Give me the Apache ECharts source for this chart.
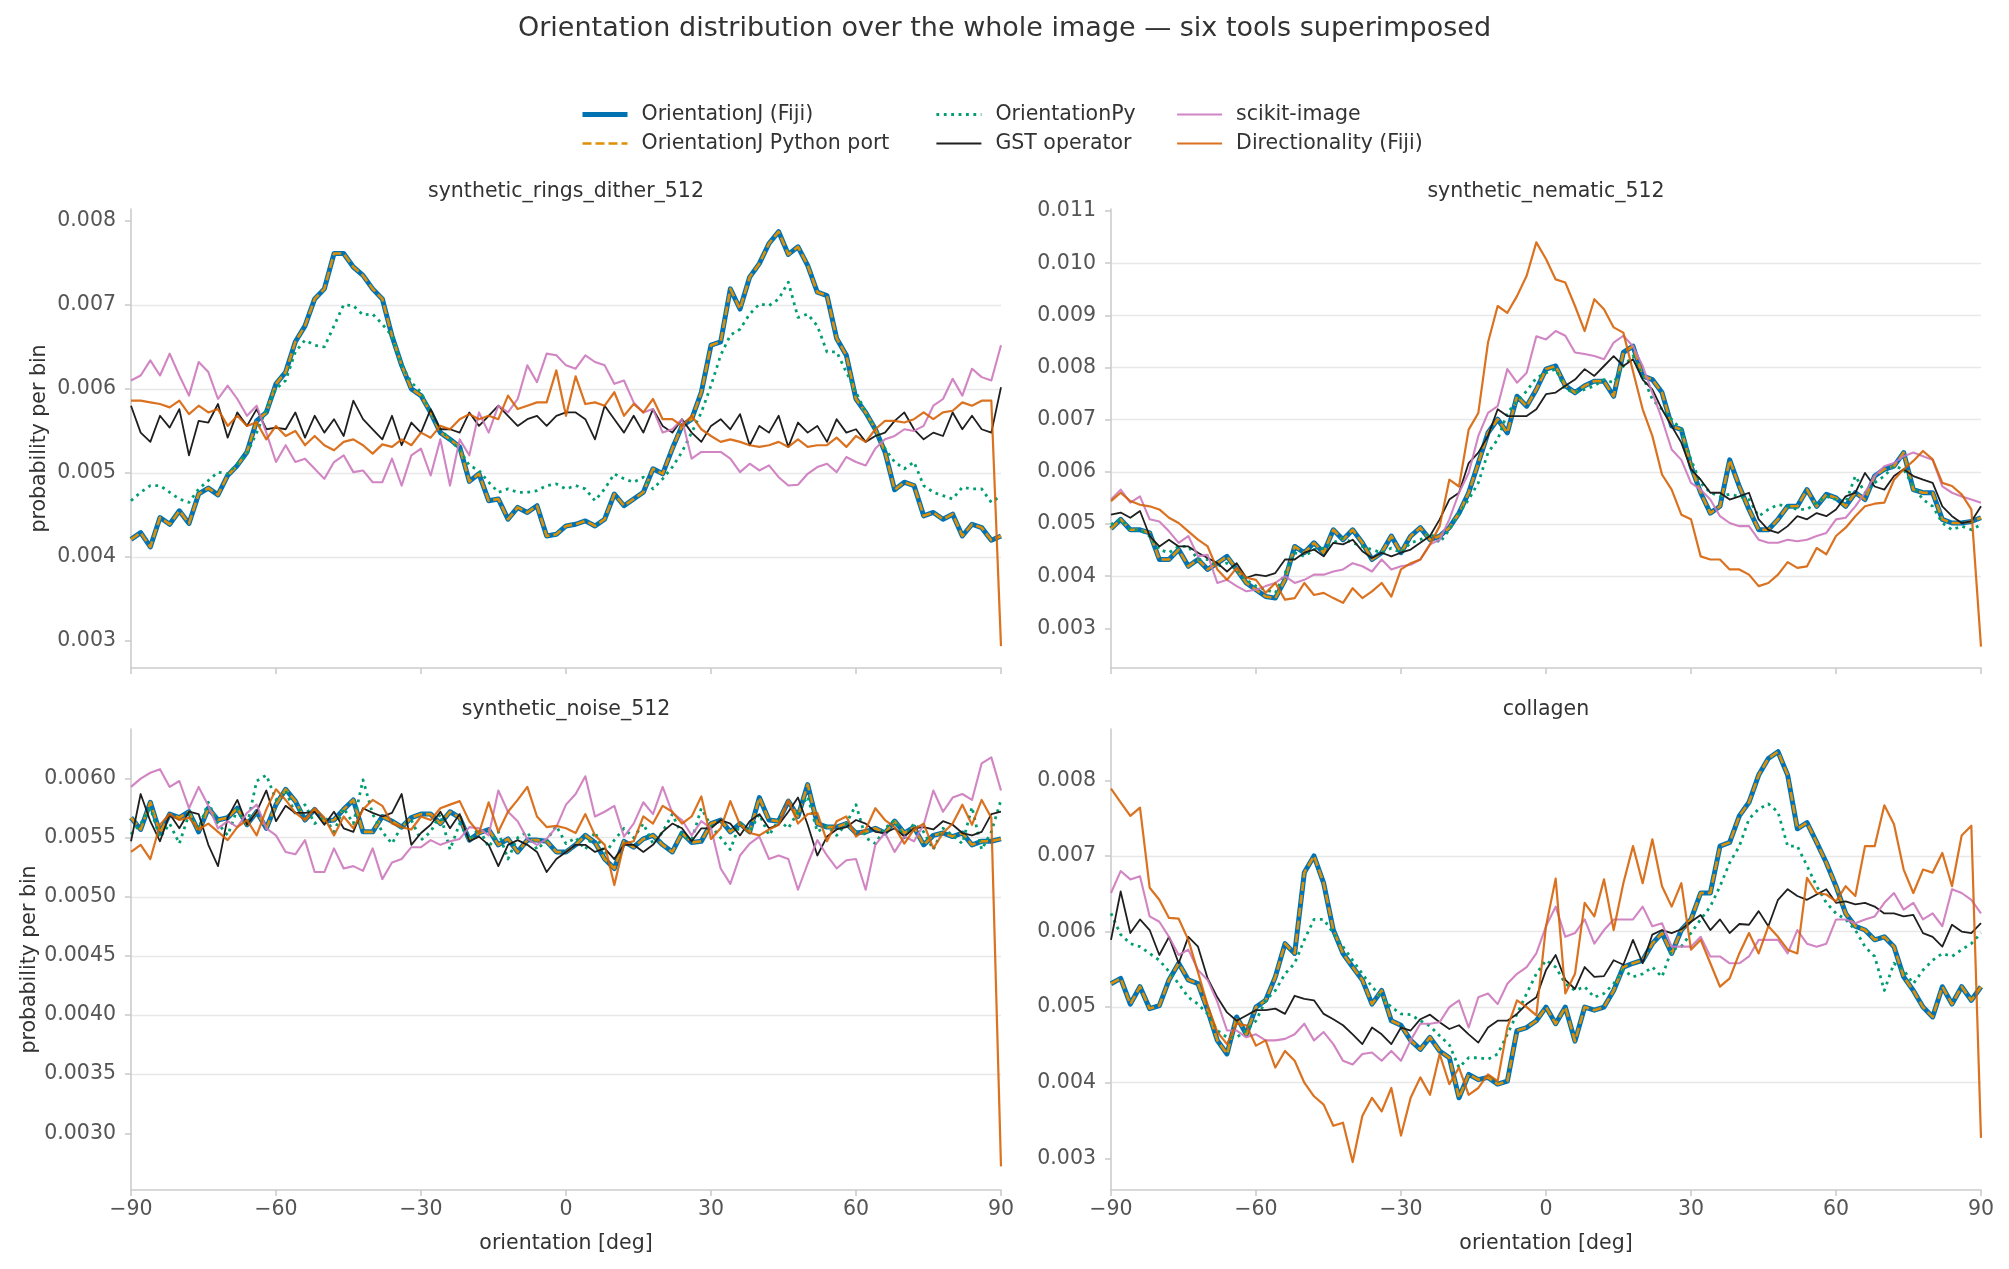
<!DOCTYPE html>
<html>
<head>
<meta charset="utf-8">
<title>Orientation distribution - six tools</title>
<script src="https://cdn.jsdelivr.net/npm/echarts@6.0.0/dist/echarts.min.js"></script>
<style>
    html, body { margin: 0; padding: 0; background: #ffffff; }
    #main { width: 2009px; height: 1269px; }
</style>
</head>
<body>
<div id="main"></div>
<script>
// bin centres, degrees
var angles = [-90,-88,-86,-84,-82,-80,-78,-76,-74,-72,-70,-68,-66,-64,-62,-60,-58,-56,-54,-52,-50,-48,-46,-44,-42,-40,-38,-36,-34,-32,-30,-28,-26,-24,-22,-20,-18,-16,-14,-12,-10,-8,-6,-4,-2,0,
    2,4,6,8,10,12,14,16,18,20,22,24,26,28,30,32,34,36,38,40,42,44,46,48,50,52,54,56,58,60,62,64,66,68,70,72,74,76,78,80,82,84,86,88,90];

// probability per bin, in units of 1e-3
// --- synthetic_rings_dither_512
var ringsOJ = [4.21,4.29,4.12,4.47,4.39,4.55,4.40,4.75,4.82,4.74,4.97,5.09,5.25,5.62,5.72,6.06,6.20,6.56,6.75,7.07,7.19,7.61,7.61,7.45,7.35,7.19,7.07,6.63,6.28,6.00,5.92,5.72,5.48,5.40,5.31,4.90,4.99,4.67,4.69,4.45,4.59,4.53,4.61,4.25,4.27,4.37,
    4.39,4.43,4.37,4.45,4.75,4.61,4.69,4.77,5.05,4.99,5.29,5.56,5.64,5.96,6.52,6.56,7.19,6.95,7.33,7.49,7.73,7.87,7.60,7.69,7.47,7.15,7.11,6.60,6.40,5.88,5.72,5.52,5.25,4.80,4.89,4.85,4.49,4.53,4.45,4.51,4.25,4.39,4.35,4.20,4.25];
var ringsOPy = [4.67,4.77,4.85,4.85,4.77,4.69,4.65,4.81,4.91,5.01,4.99,5.11,5.23,5.48,5.76,6.00,6.10,6.44,6.58,6.52,6.50,6.75,7.00,6.99,6.88,6.89,6.77,6.63,6.28,6.08,5.96,5.72,5.52,5.40,5.27,5.09,5.03,4.89,4.77,4.81,4.77,4.77,4.79,4.85,4.87,4.81,
    4.85,4.81,4.67,4.81,4.99,4.93,4.89,4.95,4.81,4.93,5.07,5.25,5.48,5.72,6.04,6.40,6.64,6.71,6.89,7.01,6.99,7.07,7.27,6.85,6.89,6.75,6.44,6.44,6.20,5.96,5.72,5.52,5.29,5.13,5.05,5.13,4.85,4.77,4.73,4.69,4.83,4.81,4.81,4.65,4.73];
var ringsGST = [5.80,5.48,5.37,5.68,5.54,5.76,5.21,5.62,5.60,5.82,5.42,5.72,5.56,5.76,5.52,5.54,5.52,5.72,5.42,5.68,5.48,5.64,5.44,5.86,5.64,5.52,5.40,5.68,5.33,5.60,5.48,5.76,5.52,5.52,5.48,5.72,5.56,5.68,5.80,5.68,5.56,5.64,5.68,5.56,5.68,5.72,
    5.72,5.64,5.40,5.80,5.64,5.48,5.68,5.48,5.76,5.56,5.48,5.64,5.48,5.37,5.56,5.64,5.52,5.70,5.33,5.56,5.48,5.68,5.31,5.60,5.48,5.56,5.37,5.64,5.48,5.52,5.37,5.44,5.48,5.62,5.72,5.52,5.40,5.48,5.44,5.72,5.52,5.68,5.52,5.48,6.02];
var ringsSki = [6.10,6.16,6.34,6.16,6.42,6.16,5.92,6.32,6.20,5.88,6.04,5.88,5.68,5.80,5.48,5.13,5.33,5.13,5.17,5.05,4.93,5.13,5.21,5.01,5.03,4.89,4.89,5.17,4.85,5.21,5.29,4.97,5.40,4.85,5.40,5.21,5.72,5.48,5.80,5.72,5.88,6.28,6.08,6.42,6.40,6.28,
    6.24,6.40,6.32,6.28,6.06,6.10,5.84,5.72,5.76,5.48,5.52,5.64,5.17,5.25,5.25,5.25,5.17,5.01,5.11,5.03,5.09,4.95,4.85,4.86,4.99,5.07,5.11,5.01,5.19,5.13,5.09,5.29,5.40,5.44,5.52,5.50,5.56,5.80,5.88,6.12,5.92,6.24,6.14,6.10,6.52];
var ringsDir = [5.86,5.86,5.84,5.82,5.78,5.86,5.70,5.80,5.72,5.76,5.56,5.68,5.56,5.60,5.40,5.56,5.44,5.50,5.33,5.44,5.33,5.27,5.37,5.40,5.33,5.23,5.34,5.31,5.40,5.33,5.48,5.42,5.56,5.52,5.64,5.70,5.64,5.68,5.64,5.92,5.76,5.80,5.84,5.84,6.22,5.68,
    6.15,5.82,5.84,5.80,5.96,5.68,5.82,5.72,5.88,5.64,5.64,5.56,5.68,5.52,5.44,5.37,5.40,5.37,5.33,5.31,5.33,5.37,5.31,5.40,5.31,5.33,5.33,5.42,5.31,5.44,5.37,5.52,5.62,5.62,5.60,5.64,5.72,5.64,5.72,5.74,5.84,5.80,5.86,5.86,2.94];

// --- synthetic_nematic_512
var nemOJ = [4.91,5.09,4.89,4.89,4.83,4.32,4.32,4.51,4.19,4.32,4.13,4.25,4.38,4.13,3.87,3.74,3.61,3.58,3.93,4.57,4.45,4.64,4.45,4.89,4.70,4.89,4.64,4.32,4.45,4.77,4.45,4.77,4.93,4.70,4.77,4.93,5.21,5.60,6.17,6.75,7.01,6.75,7.45,7.26,7.58,7.97,
    8.03,7.65,7.52,7.65,7.74,7.74,7.45,8.29,8.41,7.84,7.77,7.52,6.88,6.81,6.11,5.60,5.21,5.34,6.23,5.72,5.28,4.89,4.89,5.09,5.34,5.34,5.66,5.34,5.57,5.50,5.34,5.60,5.47,5.92,6.05,6.11,6.37,5.66,5.60,5.60,5.09,5.02,5.02,5.05,5.12];
var nemOPy = [4.99,5.09,4.89,4.89,4.77,4.51,4.45,4.57,4.57,4.32,4.32,4.19,4.25,4.13,3.93,3.81,3.74,3.68,4.06,4.45,4.38,4.51,4.54,4.64,4.73,4.64,4.57,4.51,4.45,4.54,4.45,4.64,4.70,4.83,4.64,4.89,5.21,5.47,5.79,6.37,6.62,7.13,7.35,7.55,7.80,7.90,
    7.97,7.58,7.52,7.58,7.65,7.77,7.71,8.03,8.22,7.84,7.39,7.20,7.01,6.81,6.23,5.79,5.60,5.53,5.57,5.53,5.47,5.15,5.28,5.37,5.34,5.28,5.28,5.41,5.53,5.47,5.41,5.92,5.60,5.79,5.92,6.11,6.05,5.72,5.47,5.34,5.02,4.89,4.96,4.89,4.99];
var nemGST = [5.18,5.22,5.12,5.25,4.77,4.57,4.70,4.57,4.57,4.45,4.35,4.25,4.09,4.25,3.97,4.03,4.00,4.06,4.32,4.32,4.45,4.51,4.38,4.64,4.61,4.70,4.48,4.35,4.45,4.38,4.45,4.51,4.64,4.77,5.09,5.47,5.60,6.17,6.37,6.69,7.20,7.07,7.07,7.07,7.20,7.49,
    7.52,7.65,7.77,7.97,7.84,8.03,8.22,8.03,8.16,7.77,7.58,7.20,6.88,6.56,6.05,5.85,5.60,5.60,5.47,5.53,5.60,5.09,4.89,4.83,4.96,5.15,5.09,5.21,5.15,5.28,5.53,5.60,5.98,5.72,5.66,5.92,6.05,5.92,5.85,5.79,5.34,5.15,5.02,5.05,5.34];
var nemSki = [5.47,5.66,5.41,5.53,5.09,5.05,4.86,4.64,4.77,4.38,4.41,3.87,3.93,3.81,3.71,3.74,3.81,3.87,4.00,3.87,3.93,4.03,4.03,4.09,4.13,4.25,4.19,4.09,4.32,4.13,4.19,4.22,4.32,4.61,4.70,5.09,5.60,5.98,6.69,7.13,7.26,7.97,7.71,7.90,8.60,8.54,
    8.70,8.61,8.29,8.26,8.22,8.16,8.48,8.61,8.41,8.03,7.52,7.01,6.43,6.23,5.79,5.66,5.47,5.15,5.02,4.96,4.96,4.70,4.64,4.64,4.70,4.67,4.70,4.77,4.83,5.09,5.12,5.34,5.60,5.92,6.11,6.17,6.30,6.37,6.30,6.23,5.72,5.60,5.53,5.47,5.41];
var nemDir = [5.44,5.60,5.44,5.37,5.34,5.28,5.12,5.02,4.86,4.70,4.57,4.13,3.93,4.16,3.97,3.93,3.68,3.87,3.55,3.58,3.87,3.64,3.68,3.58,3.49,3.77,3.58,3.71,3.87,3.61,4.13,4.25,4.32,4.61,4.96,5.85,5.72,6.81,7.13,8.48,9.18,9.05,9.37,9.76,10.40,10.08,
    9.69,9.63,9.18,8.70,9.31,9.12,8.77,8.67,7.93,7.20,6.69,5.95,5.66,5.18,5.09,4.38,4.32,4.32,4.13,4.13,4.03,3.81,3.87,4.03,4.27,4.16,4.19,4.54,4.42,4.77,4.93,5.15,5.34,5.39,5.41,5.85,6.05,6.21,6.40,6.24,5.79,5.73,5.57,5.28,2.65];

// --- synthetic_noise_512
var noiseOJ = [5.67,5.57,5.80,5.54,5.70,5.67,5.72,5.55,5.75,5.65,5.67,5.75,5.61,5.72,5.58,5.78,5.91,5.81,5.65,5.74,5.64,5.65,5.74,5.82,5.55,5.55,5.68,5.64,5.59,5.67,5.70,5.70,5.62,5.72,5.67,5.48,5.54,5.57,5.44,5.49,5.38,5.48,5.48,5.47,5.38,5.38,
    5.44,5.52,5.46,5.32,5.24,5.47,5.42,5.49,5.52,5.44,5.38,5.54,5.46,5.47,5.62,5.65,5.55,5.62,5.55,5.84,5.65,5.64,5.81,5.68,5.95,5.62,5.59,5.59,5.62,5.54,5.55,5.58,5.54,5.64,5.54,5.59,5.44,5.52,5.54,5.51,5.54,5.44,5.47,5.47,5.49];
var noiseOPy = [5.53,5.62,5.75,5.50,5.62,5.45,5.70,5.58,5.80,5.62,5.52,5.74,5.60,5.98,6.03,5.82,5.90,5.70,5.78,5.62,5.68,5.55,5.75,5.62,5.99,5.70,5.55,5.45,5.60,5.65,5.48,5.55,5.70,5.40,5.62,5.48,5.58,5.42,5.55,5.32,5.50,5.55,5.40,5.48,5.60,5.45,
    5.50,5.40,5.55,5.36,5.48,5.58,5.50,5.62,5.45,5.55,5.70,5.52,5.48,5.75,5.60,5.50,5.40,5.62,5.55,5.70,5.52,5.65,5.58,5.72,5.85,5.55,5.60,5.52,5.62,5.78,5.50,5.45,5.58,5.65,5.50,5.62,5.55,5.40,5.58,5.52,5.45,5.76,5.40,5.55,5.82];
var noiseGST = [5.47,5.87,5.64,5.47,5.70,5.58,5.72,5.70,5.44,5.26,5.67,5.82,5.61,5.72,5.90,5.64,5.77,5.71,5.71,5.72,5.61,5.72,5.58,5.55,5.75,5.71,5.68,5.71,5.87,5.44,5.54,5.61,5.72,5.58,5.70,5.47,5.51,5.44,5.26,5.44,5.48,5.44,5.38,5.21,5.32,5.38,
    5.44,5.44,5.38,5.41,5.32,5.44,5.44,5.38,5.44,5.55,5.62,5.58,5.47,5.58,5.58,5.65,5.62,5.52,5.64,5.70,5.58,5.61,5.72,5.84,5.61,5.35,5.51,5.57,5.59,5.65,5.62,5.55,5.54,5.58,5.51,5.58,5.59,5.57,5.64,5.61,5.54,5.52,5.55,5.70,5.72];
var noiseSki = [5.93,6.00,6.05,6.08,5.93,5.98,5.75,5.93,5.77,5.58,5.64,5.59,5.71,5.78,5.58,5.52,5.38,5.36,5.48,5.21,5.21,5.41,5.24,5.26,5.22,5.41,5.15,5.29,5.32,5.42,5.42,5.48,5.44,5.47,5.49,5.59,5.58,5.52,5.90,5.72,5.64,5.49,5.44,5.49,5.59,5.78,
    5.87,6.02,5.68,5.72,5.77,5.51,5.62,5.80,5.70,5.93,5.71,5.65,5.52,5.64,5.58,5.24,5.11,5.35,5.45,5.51,5.32,5.35,5.32,5.06,5.28,5.48,5.35,5.24,5.31,5.32,5.06,5.44,5.54,5.38,5.51,5.47,5.61,5.90,5.72,5.84,5.87,5.82,6.13,6.18,5.90];
var noiseDir = [5.38,5.44,5.32,5.61,5.70,5.65,5.67,5.57,5.62,5.55,5.48,5.59,5.65,5.52,5.74,5.91,5.82,5.71,5.65,5.75,5.67,5.52,5.68,5.58,5.74,5.82,5.77,5.62,5.59,5.57,5.68,5.65,5.75,5.78,5.81,5.64,5.54,5.80,5.55,5.72,5.82,5.93,5.68,5.59,5.60,5.58,
    5.54,5.70,5.52,5.44,5.10,5.45,5.47,5.68,5.62,5.77,5.72,5.62,5.68,5.85,5.49,5.58,5.81,5.61,5.54,5.52,5.57,5.61,5.82,5.62,5.70,5.71,5.47,5.64,5.68,5.51,5.57,5.75,5.65,5.59,5.45,5.57,5.62,5.41,5.54,5.62,5.78,5.61,5.82,5.67,2.72];

// --- collagen
var colOJ = [5.31,5.38,5.04,5.27,4.98,5.02,5.36,5.58,5.36,5.31,4.96,4.56,4.38,4.87,4.64,5.00,5.09,5.40,5.84,5.71,6.78,7.00,6.64,6.02,5.71,5.53,5.36,5.04,5.22,4.82,4.76,4.56,4.44,4.60,4.42,4.33,3.80,4.11,4.04,4.07,3.98,4.02,4.69,4.73,4.82,5.00,
    4.78,5.00,4.55,5.00,4.96,5.00,5.22,5.53,5.58,5.62,5.84,5.98,5.71,6.02,6.16,6.51,6.51,7.13,7.18,7.53,7.71,8.07,8.29,8.38,8.07,7.36,7.44,7.18,6.91,6.60,6.24,6.07,6.02,5.89,5.93,5.80,5.40,5.22,5.00,4.87,5.27,5.04,5.27,5.09,5.27];
var colOPy = [6.24,5.96,5.84,5.80,5.71,5.62,5.47,5.31,5.13,5.04,4.91,4.69,4.60,4.60,4.69,4.82,5.09,5.22,5.44,5.58,5.89,6.16,6.16,5.98,5.80,5.62,5.44,5.27,5.13,5.00,4.91,4.90,4.82,4.75,4.62,4.50,4.20,4.33,4.33,4.31,4.38,4.64,4.91,5.18,5.44,5.62,
    5.53,5.31,5.22,5.27,5.13,5.18,5.31,5.49,5.40,5.44,5.53,5.40,5.76,5.80,5.98,6.16,6.33,6.60,6.91,7.13,7.49,7.62,7.69,7.58,7.13,7.13,6.87,6.60,6.38,6.24,6.16,6.02,5.80,5.67,5.22,5.58,5.49,5.31,5.49,5.62,5.71,5.67,5.76,5.84,5.98];
var colGST = [5.89,6.53,5.98,6.16,6.02,5.69,5.93,5.58,5.93,5.80,5.38,5.13,4.93,4.82,4.89,4.96,4.96,4.98,4.91,5.15,5.11,5.09,4.91,4.84,4.76,4.64,4.51,4.73,4.64,4.51,4.73,4.69,4.84,4.90,4.80,4.71,4.76,4.64,4.53,4.73,4.82,4.82,4.91,5.04,5.13,5.49,
    5.69,5.36,5.24,5.53,5.40,5.41,5.62,5.56,5.89,5.58,5.96,6.02,5.98,6.03,6.13,6.22,6.02,6.16,5.98,6.10,6.09,6.27,6.07,6.42,6.56,6.47,6.42,6.49,6.56,6.38,6.40,6.36,6.38,6.33,6.24,6.24,6.20,6.22,5.98,5.93,5.80,6.09,6.00,5.98,6.11];
var colSki = [6.51,6.80,6.69,6.73,6.20,6.13,5.93,5.69,5.76,5.49,5.36,5.07,4.69,4.69,4.60,4.64,4.56,4.56,4.58,4.64,4.78,4.56,4.67,4.51,4.29,4.24,4.38,4.40,4.29,4.42,4.29,4.56,4.78,4.78,4.80,5.00,5.09,4.73,5.13,5.18,5.04,5.31,5.44,5.53,5.71,6.07,
    6.33,5.93,5.98,6.16,5.84,6.02,6.16,6.16,6.16,6.33,6.07,6.11,5.80,5.80,5.80,5.93,5.67,5.67,5.58,5.58,5.67,5.89,5.89,5.89,5.71,6.02,5.84,5.80,5.84,6.16,6.16,6.11,6.16,6.20,6.38,6.51,6.29,6.38,6.16,6.24,6.07,6.56,6.51,6.42,6.24];
var colDir = [7.89,7.71,7.53,7.64,6.58,6.42,6.18,6.17,5.89,5.46,5.02,4.67,4.51,4.78,4.76,4.49,4.56,4.20,4.42,4.29,4.00,3.82,3.71,3.43,3.47,2.95,3.56,3.80,3.62,3.93,3.30,3.80,4.07,3.84,4.38,3.98,4.20,3.84,3.93,4.11,4.02,4.73,5.09,5.00,4.89,6.07,
    6.70,5.18,5.44,6.38,6.20,6.69,6.02,6.64,7.13,6.64,7.22,6.60,6.33,6.64,5.76,5.89,5.58,5.27,5.38,5.71,5.98,5.71,6.07,5.93,5.76,5.71,6.71,6.51,6.49,6.40,6.60,6.47,7.13,7.13,7.67,7.42,6.82,6.51,6.82,6.78,7.04,6.60,7.27,7.40,3.27];

// y tick labels per panel
var ticksRings = [0.003, 0.004, 0.005, 0.006, 0.007, 0.008];
var ticksNematic = [0.003, 0.004, 0.005, 0.006, 0.007, 0.008, 0.009, 0.010, 0.011];
var ticksNoise = [0.0030, 0.0035, 0.0040, 0.0045, 0.0050, 0.0055, 0.0060];
var ticksCollagen = [0.003, 0.004, 0.005, 0.006, 0.007, 0.008];

var FONT = '"DejaVu Sans", "Noto Sans", sans-serif';
var spineColor = '#cccccc';

var tools = [
    { name: 'OrientationJ (Fiji)',      color: '#0173b2', width: 5,   type: 'solid',    opacity: 1 },
    { name: 'OrientationJ Python port', color: '#de8f05', width: 2.6, type: [9, 4],     opacity: 1 },
    { name: 'OrientationPy',            color: '#029e73', width: 2.8, type: [2.8, 4.6], opacity: 1 },
    { name: 'GST operator',             color: '#1f1f1f', width: 1.8, type: 'solid',    opacity: 1 },
    { name: 'scikit-image',             color: '#cc78bc', width: 2.1, type: 'solid',    opacity: 0.9 },
    { name: 'Directionality (Fiji)',    color: '#d55e00', width: 2.2, type: 'solid',    opacity: 0.88 }
];

// the Python port sits on top of the Fiji curve, same values
var panels = [
    { title: 'synthetic_rings_dither_512', cx: 566, cy: 192, grid: { left: 131, top: 209, width: 870, height: 459 },
      series: [ringsOJ, ringsOJ, ringsOPy, ringsGST, ringsSki, ringsDir], min: 0.00268, max: 0.00814, split: 5, ticks: ticksRings, dec: 3, left: true, bottom: false },
    { title: 'synthetic_nematic_512', cx: 1546, cy: 192, grid: { left: 1111, top: 209, width: 870, height: 459 },
      series: [nemOJ, nemOJ, nemOPy, nemGST, nemSki, nemDir], min: 0.00224, max: 0.01104, split: 8, ticks: ticksNematic, dec: 3, left: false, bottom: false },
    { title: 'synthetic_noise_512', cx: 566, cy: 710, grid: { left: 131, top: 729, width: 870, height: 461 },
      series: [noiseOJ, noiseOJ, noiseOPy, noiseGST, noiseSki, noiseDir], min: 0.00252, max: 0.00642, split: 8, ticks: ticksNoise, dec: 4, left: true, bottom: true },
    { title: 'collagen', cx: 1546, cy: 710, grid: { left: 1111, top: 729, width: 870, height: 461 },
      series: [colOJ, colOJ, colOPy, colGST, colSki, colDir], min: 0.00258, max: 0.00868, split: 6, ticks: ticksCollagen, dec: 3, left: false, bottom: true }
];

function toPairs(values) {
    return angles.map(function(a, i) { return [a, values[i] / 1000]; });
}

function degLabel(v) {
    return v < 0 ? '\u2212' + Math.abs(v) : String(v);
}

var grids = [], xAxes = [], yAxes = [], seriesList = [], graphics = [];

graphics.push({
    type: 'text', x: 1004.5, y: 29, silent: true,
    style: { text: 'Orientation distribution over the whole image \u2014 six tools superimposed',
             fill: '#333333', font: 'normal 27px ' + FONT, align: 'center', verticalAlign: 'middle' }
});

panels.forEach(function(p, i) {
    grids.push(p.grid);

    graphics.push({
        type: 'text', x: p.cx, y: p.cy, silent: true,
        style: { text: p.title, fill: '#333333', font: 'normal 20.5px ' + FONT, align: 'center', verticalAlign: 'middle' }
    });

    xAxes.push({
        type: 'value', gridIndex: i, min: -90, max: 90, interval: 30,
        axisLine: { show: true, onZero: false, lineStyle: { color: spineColor, width: 1.6 } },
        axisTick: { show: true, length: 6, lineStyle: { color: spineColor, width: 1.6 } },
        axisLabel: { show: p.bottom, margin: 9, color: '#555555', fontSize: 20.5, fontFamily: FONT, formatter: degLabel },
        splitLine: { show: false },
        name: p.bottom ? 'orientation [deg]' : '',
        nameLocation: 'middle', nameGap: 43,
        nameTextStyle: { color: '#333333', fontSize: 20.5, fontFamily: FONT }
    });

    yAxes.push({
        type: 'value', gridIndex: i, min: p.min, max: p.max, splitNumber: p.split,
        axisLine: { show: true, onZero: false, lineStyle: { color: spineColor, width: 1.6 } },
        axisTick: { show: true, length: 6, customValues: p.ticks, lineStyle: { color: spineColor, width: 1.6 } },
        axisLabel: {
            customValues: p.ticks, margin: 15, color: '#555555', fontSize: 20.5, fontFamily: FONT,
            formatter: (function(d) { return function(v) { return v.toFixed(d); }; })(p.dec)
        },
        splitLine: { show: true, showMinLine: false, showMaxLine: false, lineStyle: { color: '#e8e8e8', width: 1.4 } },
        name: p.left ? 'probability per bin' : '',
        nameLocation: 'middle', nameGap: 81,
        nameTextStyle: { color: '#333333', fontSize: 20.5, fontFamily: FONT }
    });

    p.series.forEach(function(vals, k) {
        var t = tools[k];
        seriesList.push({
            name: t.name, type: 'line', xAxisIndex: i, yAxisIndex: i,
            data: toPairs(vals),
            symbol: 'none', showSymbol: false, silent: true,
            emphasis: { disabled: true },
            lineStyle: { color: t.color, width: t.width, type: t.type, join: 'round', cap: 'butt', opacity: t.opacity },
            itemStyle: { color: t.color }
        });
    });
});

// one legend per column, two entries each (column-major like the reference)
function legendCol(idx, left) {
    return {
        data: idx.map(function(k) {
            var t = tools[k];
            return { name: t.name, lineStyle: { width: t.width, color: t.color, type: t.type, opacity: t.opacity } };
        }),
        orient: 'vertical', left: left, top: 104,
        itemWidth: 45, itemHeight: 14, itemGap: 8, padding: 0,
        selectedMode: false,
        itemStyle: { opacity: 0 },
        textStyle: { color: '#333333', fontSize: 20.5, fontFamily: FONT, padding: [0, 0, 0, 9] }
    };
}

var chart = echarts.init(document.getElementById('main'), null, { renderer: 'canvas' });
chart.setOption({
    backgroundColor: '#ffffff',
    animation: false,
    textStyle: { fontFamily: FONT },
    legend: [
        legendCol([0, 1], 580),
        legendCol([2, 3], 935),
        legendCol([4, 5], 1176)
    ],
    grid: grids,
    xAxis: xAxes,
    yAxis: yAxes,
    series: seriesList,
    graphic: graphics
});
</script>
</body>
</html>
